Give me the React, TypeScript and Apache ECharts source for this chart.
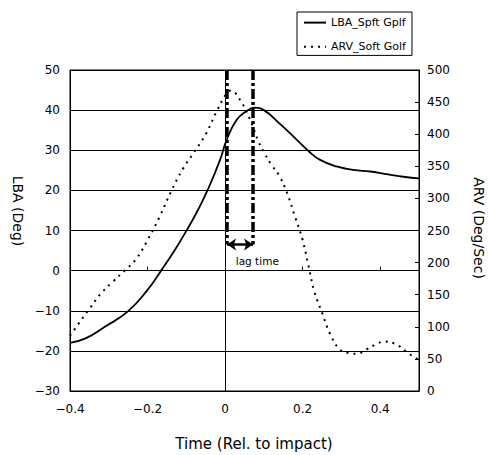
import React, { useEffect, useRef } from "react";
import * as echarts from "echarts";

// ---- data ----
const lbaTime = [-0.4, -0.36, -0.31, -0.25, -0.2, -0.165, -0.13, -0.1, -0.07, -0.045, -0.013, 0.004, 0.03, 0.056, 0.077, 0.1, 0.14, 0.185, 0.215, 0.245, 0.29, 0.33, 0.375, 0.42, 0.46, 0.5];
const lbaValues = [-18, -16.9, -14, -10.1, -4.8, 0, 5.1, 9.9, 15.1, 20.1, 27.6, 32.6, 37.6, 39.8, 40.6, 40.0, 36.7, 32.6, 29.8, 27.6, 25.9, 25.1, 24.7, 24.0, 23.4, 23.0];

const arvTime = [-0.4, -0.38, -0.35, -0.32, -0.29, -0.26, -0.23, -0.2, -0.17, -0.14, -0.11, -0.08, -0.05, -0.02, 0.0, 0.015, 0.04, 0.065, 0.085, 0.1, 0.12, 0.14, 0.16, 0.18, 0.2, 0.215, 0.23, 0.25, 0.27, 0.295, 0.32, 0.34, 0.365, 0.39, 0.41, 0.44, 0.47, 0.5];
const arvValues = [86, 103, 128, 152, 170, 187, 205, 235, 270, 310, 345, 372, 400, 438, 460, 468, 452, 422, 390, 372, 352, 335, 308, 272, 235, 195, 155, 122, 90, 65, 59, 58, 65, 73, 77, 73, 60, 48];

const seriesNames = ["LBA_Spft Gplf", "ARV_Soft Golf"];
const axisTitles = { x: "Time (Rel. to impact)", left: "LBA (Deg)", right: "ARV (Deg/Sec)" };

// lag-time annotation (data coordinates: time, LBA)
const lagStart = 0.005;
const lagEnd = 0.072;
const lagTop = 50;
const lagBottom = 6.5;
const lagLabelAt = [0.083, 2.3];
const lagLabel = "lag time";

const FONT = "DejaVu Sans";
const minus = (v: number) => String(v).replace("-", "\u2212");

export default function App() {
  const ref = useRef<HTMLDivElement>(null);
  useEffect(() => {
    document.body.style.margin = "0";
    const chart = echarts.init(ref.current!, null, { renderer: "svg" });
    const lbaData = lbaTime.map((t, i) => [t, lbaValues[i]]);
    const arvData = arvTime.map((t, i) => [t, arvValues[i]]);
    const black = "#000";
    chart.setOption({
      animation: false,
      backgroundColor: "#fff",
      textStyle: { fontFamily: FONT, color: black },
      grid: { left: 70, right: 69, top: 70, bottom: 64, show: true, borderColor: black, borderWidth: 1 },
      legend: {
        data: seriesNames,
        orient: "vertical",
        left: 297,
        top: 12,
        itemWidth: 22,
        itemHeight: 14,
        itemGap: 13,
        padding: [5, 6, 3, 6],
        borderColor: black,
        borderWidth: 1,
        itemStyle: { opacity: 0 },
        textStyle: { fontFamily: FONT, fontSize: 11, color: black },
      },
      xAxis: [
        {
          type: "value",
          min: -0.4,
          max: 0.5,
          interval: 0.2,
          axisLine: { show: true, onZero: false, lineStyle: { color: black } },
          axisTick: { show: false },
          splitLine: { show: false },
          axisLabel: { showMaxLabel: false, margin: 12, fontSize: 12, color: black, fontFamily: FONT, formatter: minus },
        },
        {
          type: "value",
          min: -0.4,
          max: 0.5,
          interval: 0.2,
          position: "bottom",
          axisLine: { show: true, onZero: true, onZeroAxisIndex: 0, lineStyle: { color: black } },
          axisTick: { show: true, inside: true, length: 4, lineStyle: { color: black } },
          axisLabel: { show: false },
          splitLine: { show: false },
        },
      ],
      yAxis: [
        {
          type: "value",
          min: -30,
          max: 50,
          interval: 10,
          position: "left",
          axisLine: { show: true, onZero: false, lineStyle: { color: black } },
          axisTick: { show: false },
          splitLine: { show: true, lineStyle: { color: black, width: 1 } },
          axisLabel: { margin: 10, fontSize: 12, color: black, fontFamily: FONT, formatter: minus },
        },
        {
          type: "value",
          min: 0,
          max: 500,
          interval: 50,
          position: "right",
          axisLine: { show: true, onZero: false, lineStyle: { color: black } },
          axisTick: { show: true, inside: true, length: 4, lineStyle: { color: black } },
          splitLine: { show: false },
          axisLabel: { margin: 8, fontSize: 12, color: black, fontFamily: FONT },
        },
      ],
      series: [
        {
          name: seriesNames[0],
          type: "line",
          xAxisIndex: 0,
          yAxisIndex: 0,
          data: lbaData,
          smooth: 0.5,
          symbol: "none",
          showSymbol: false,
          lineStyle: { color: black, width: 1.8, type: "solid" },
          itemStyle: { color: black },
          markLine: {
            silent: true,
            symbol: "none",
            label: { show: false },
            data: [
              [{ xAxis: 0, yAxis: -30, lineStyle: { color: black, width: 1, type: "solid" } }, { xAxis: 0, yAxis: 50 }],
              [{ coord: [lagStart, lagTop], lineStyle: { color: black, width: 3.5, type: [10, 3, 3, 3] } }, { coord: [lagStart, lagBottom] }],
              [{ coord: [lagEnd, lagTop], lineStyle: { color: black, width: 3.5, type: [10, 3, 3, 3] } }, { coord: [lagEnd, lagBottom] }],
              [
                { coord: [lagStart, lagBottom], symbol: "arrow", symbolSize: 9, lineStyle: { color: black, width: 2.5, type: "solid" } },
                { coord: [lagEnd, lagBottom], symbol: "arrow", symbolSize: 9 },
              ],
            ],
          },
          markPoint: {
            silent: true,
            symbol: "rect",
            symbolSize: 0,
            data: [
              {
                coord: lagLabelAt,
                label: { show: true, formatter: lagLabel, position: "inside", color: black, fontSize: 10.5, fontFamily: FONT },
              },
            ],
          },
        },
        {
          name: seriesNames[1],
          type: "line",
          xAxisIndex: 0,
          yAxisIndex: 1,
          data: arvData,
          smooth: 0.4,
          symbol: "none",
          showSymbol: false,
          lineStyle: { color: black, width: 2, type: [2, 5] },
          itemStyle: { color: black },
        },
      ],
      graphic: [
        {
          type: "text",
          x: 18,
          y: 211,
          rotation: -Math.PI / 2,
          style: { text: axisTitles.left, fill: black, fontSize: 14, fontFamily: FONT, align: "center", verticalAlign: "middle" },
        },
        {
          type: "text",
          x: 479,
          y: 228,
          rotation: -Math.PI / 2,
          style: { text: axisTitles.right, fill: black, fontSize: 14, fontFamily: FONT, align: "center", verticalAlign: "middle" },
        },
        {
          type: "text",
          x: 254,
          y: 444,
          style: { text: axisTitles.x, fill: black, fontSize: 15, fontFamily: FONT, align: "center", verticalAlign: "middle" },
        },
      ],
    });
    return () => chart.dispose();
  }, []);
  return <div ref={ref} style={{ width: 488, height: 455 }} />;
}
